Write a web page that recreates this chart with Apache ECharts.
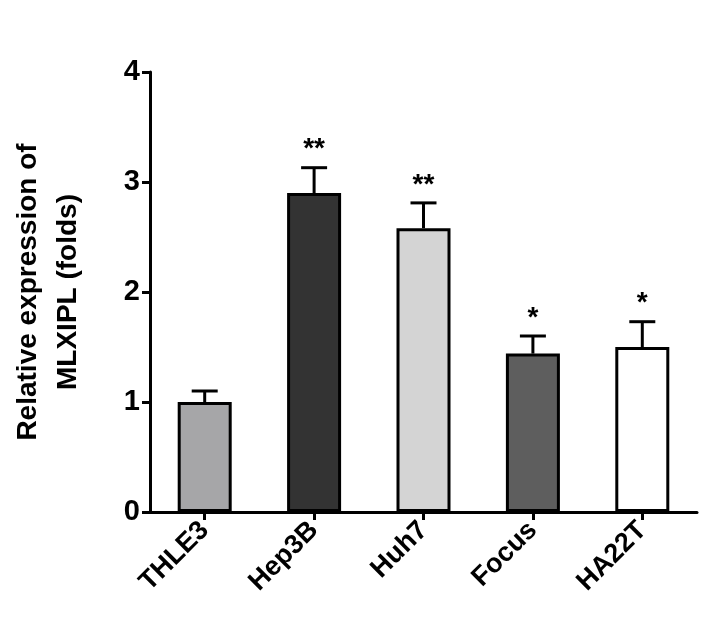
<!DOCTYPE html>
<html><head><meta charset="utf-8">
<script src="https://cdn.jsdelivr.net/npm/echarts@6/dist/echarts.min.js"></script>
<style>html,body{margin:0;padding:0;background:#fff}#c{width:707px;height:643px}</style>
</head><body><div id="c"></div>
<script>
const categories = ['THLE3','Hep3B','Huh7','Focus','HA22T'];
const values = [1.0, 2.9, 2.58, 1.44, 1.5];
const errors = [0.1, 0.23, 0.23, 0.16, 0.23];
const stars = ['', '**', '**', '*', '*'];
const colors = ['#a6a6a8','#333333','#d4d4d4','#5e5e5e','#ffffff'];
const yTicks = [0,1,2,3,4];

const chart = echarts.init(document.getElementById('c'));
chart.setOption({
  animation:false,
  grid:{left:140,right:10,top:72,bottom:131},
  xAxis:{type:'category',data:categories,
    axisLine:{lineStyle:{color:'#000',width:3}},
    axisTick:{show:true,alignWithLabel:true,length:8,lineStyle:{color:'#000',width:3}},
    axisLabel:{rotate:45,color:'#000',fontWeight:'bold',fontSize:27,fontFamily:'Liberation Sans',margin:14}},
  yAxis:{type:'value',min:0,max:4,interval:1,
    name:'Relative expression of\nMLXIPL (folds)',nameLocation:'middle',nameGap:62,
    nameTextStyle:{color:'#000',fontWeight:'bold',fontSize:28,fontFamily:'Liberation Sans',lineHeight:40},
    axisLine:{show:true,lineStyle:{color:'#000',width:3}},
    axisTick:{show:true,length:8,lineStyle:{color:'#000',width:3}},
    splitLine:{show:false},
    axisLabel:{color:'#000',fontWeight:'bold',fontSize:29,fontFamily:'Liberation Sans',margin:10,
      formatter:v=>yTicks.includes(v)?String(v):''}},
  series:[
    {type:'custom',z:1,data:values.map((v,i)=>[i,v,v+errors[i]]),
     renderItem:(p,api)=>{
       const top=api.coord([api.value(0),api.value(2)]);
       const base=api.coord([api.value(0),api.value(1)]);
       return {type:'group',children:[
         {type:'line',shape:{x1:top[0],y1:top[1],x2:base[0],y2:base[1]},style:{stroke:'#000',lineWidth:3}},
         {type:'line',shape:{x1:top[0]-13,y1:top[1],x2:top[0]+13,y2:top[1]},style:{stroke:'#000',lineWidth:3}},
         {type:'text',x:top[0],y:top[1]-4,style:{text:stars[api.value(0)],fill:'#000',font:'bold 28px Liberation Sans',align:'center',verticalAlign:'bottom'}}
       ]};
     }},
    {type:'bar',z:2,barWidth:54,data:values.map((v,i)=>({value:v,itemStyle:{color:colors[i]}})),
     itemStyle:{borderColor:'#000',borderWidth:3}}
  ]
});
</script></body></html>
